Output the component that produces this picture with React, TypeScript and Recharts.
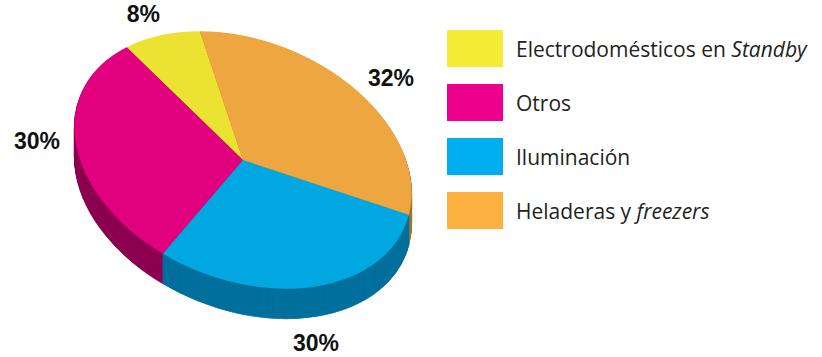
import { Cell, Pie, PieChart } from 'recharts';

const CATEGORIES = ['Electrodomésticos en ', 'Otros', 'Iluminación', 'Heladeras y '];
const ITALIC_PARTS = ['Standby', '', '', 'freezers'];
const VALUES = [8, 30, 30, 32];

const TOP_COLORS = ['#ece232', '#e1007e', '#00a7e1', '#eea740'];
const SIDE_COLORS = ['#a49d1f', '#8c0050', '#00709d', '#a8732b'];
const LEGEND_COLORS = ['#f6ec36', '#ec008c', '#00aeef', '#fbb040'];

const data = CATEGORIES.map((name, i) => ({ name, value: VALUES[i] }));

// fake 3d: squash the circle, tilt it, stack darker copies below
const TILT = 21.6;
const SQUASH = 0.685;
const DEPTH = 30;
const SIZE = 560;
const R = 175;
const CENTER_X = 243;
const CENTER_Y = 160;

const t = (TILT * Math.PI) / 180;
const toScreen = (x: number, y: number) => {
  const ys = y * SQUASH;
  return [x * Math.cos(t) - ys * Math.sin(t), x * Math.sin(t) + ys * Math.cos(t)];
};
const toLocal = (x: number, y: number) => {
  const lx = x * Math.cos(t) + y * Math.sin(t);
  const ly = -x * Math.sin(t) + y * Math.cos(t);
  return [lx, ly / SQUASH];
};

const renderLabel = (p: any) => {
  const rad = (p.midAngle * Math.PI) / 180;
  const [ex, ey] = toScreen(p.outerRadius * Math.cos(rad), -p.outerRadius * Math.sin(rad));
  const len = Math.hypot(ex, ey);
  const dx = ex / len;
  const dy = ey / len;
  const text = `${p.value}%`;
  const halfW = text.length * 7.7;
  const below = dy > 0;
  const sx = below ? ex : ex + dx * (16 + halfW);
  const sy = below ? ey + dy * 26 + DEPTH + 4 : ey + dy * 26;
  const [lx, ly] = toLocal(sx, sy);
  const x = p.cx + lx;
  const y = p.cy + ly;
  return (
    <text
      x={x}
      y={y}
      textAnchor="middle"
      dominantBaseline="central"
      fontFamily="'Liberation Sans', Arial, sans-serif"
      fontWeight="bold"
      fontSize={23}
      fill="#111"
      transform={`translate(${x} ${y}) scale(1 ${1 / SQUASH}) rotate(${-TILT}) translate(${-x} ${-y})`}
    >
      {text}
    </text>
  );
};

const PieLayer = ({ offset, colors, top }: { offset: number; colors: string[]; top?: boolean }) => (
  <div
    style={{
      position: 'absolute',
      left: CENTER_X - SIZE / 2,
      top: CENTER_Y - SIZE / 2,
      width: SIZE,
      height: SIZE,
      transformOrigin: `${SIZE / 2}px ${SIZE / 2}px`,
      transform: `translateY(${offset}px) rotate(${TILT}deg) scaleY(${SQUASH})`,
    }}
  >
    <PieChart width={SIZE} height={SIZE} margin={{ top: 0, right: 0, bottom: 0, left: 0 }}>
      <Pie
        data={data}
        dataKey="value"
        nameKey="name"
        cx={SIZE / 2}
        cy={SIZE / 2}
        outerRadius={R}
        startAngle={120}
        endAngle={480}
        isAnimationActive={false}
        label={top ? renderLabel : false}
        labelLine={false}
      >
        {data.map((entry, i) => (
          <Cell key={entry.name} fill={colors[i]} stroke={top ? 'none' : colors[i]} strokeWidth={top ? 0 : 1} />
        ))}
      </Pie>
    </PieChart>
  </div>
);

const depthSteps = Array.from({ length: DEPTH }, (_, i) => DEPTH - i);

export default function App() {
  return (
    <div
      style={{
        position: 'absolute',
        left: 0,
        top: 0,
        width: 822,
        height: 357,
        overflow: 'hidden',
        background: '#fff',
      }}
    >
      {depthSteps.map((k) => (
        <PieLayer key={k} offset={k} colors={SIDE_COLORS} />
      ))}
      <PieLayer offset={0} colors={TOP_COLORS} top />
      <div style={{ position: 'absolute', left: 447, top: 30 }}>
        {data.map((entry, i) => (
          <div key={entry.name} style={{ display: 'flex', alignItems: 'center', height: 37, marginBottom: 17 }}>
            <div style={{ width: 56, height: 37, background: LEGEND_COLORS[i] }} />
            <span
              style={{
                marginLeft: 13,
                fontFamily: "'Open Sans', sans-serif",
                fontSize: 21,
                color: '#231f20',
                whiteSpace: 'pre',
              }}
            >
              {entry.name}
              {ITALIC_PARTS[i] && <i>{ITALIC_PARTS[i]}</i>}
            </span>
          </div>
        ))}
      </div>
    </div>
  );
}
